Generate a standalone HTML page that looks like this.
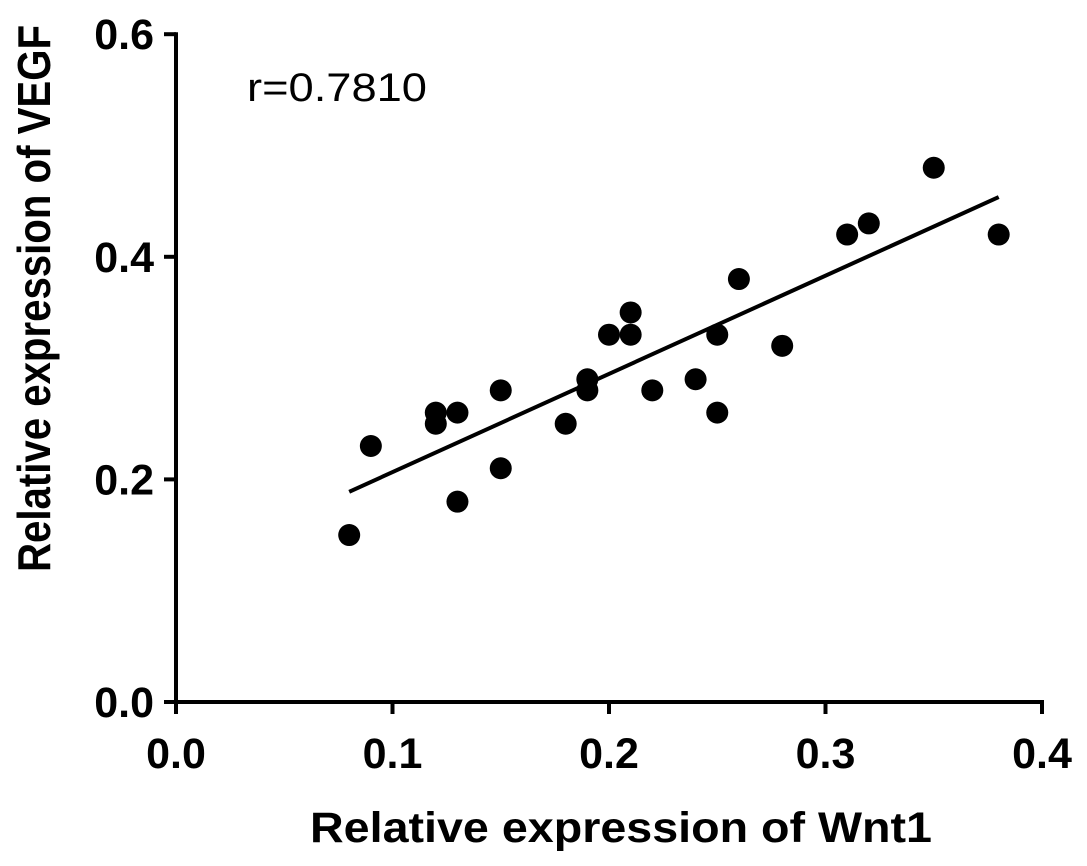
<!DOCTYPE html>
<html><head><meta charset="utf-8"><style>
html,body{margin:0;padding:0;background:#fff;}
svg{display:block;font-family:"Liberation Sans",Arial,sans-serif;}
</style></head><body>
<svg id="chart" width="1087" height="866"></svg>
<script>
const xVals=[0.08,0.09,0.12,0.12,0.13,0.13,0.15,0.15,0.18,0.19,0.19,0.20,0.21,0.21,0.22,0.24,0.25,0.25,0.26,0.28,0.31,0.32,0.35,0.38];
const yVals=[0.15,0.23,0.26,0.25,0.26,0.18,0.28,0.21,0.25,0.29,0.28,0.33,0.35,0.33,0.28,0.29,0.33,0.26,0.38,0.32,0.42,0.43,0.48,0.42];
const xTicks=[0.0,0.1,0.2,0.3,0.4];
const yTicks=[0.0,0.2,0.4,0.6];
const rLabel="r=0.7810";
const NS="http://www.w3.org/2000/svg";
const svg=document.getElementById('chart');
const X0=176,XS=2165,Y0=702,YS=1113;
function sx(v){return X0+v*XS;}
function sy(v){return Y0-v*YS;}
function mk(t,a,p){const e=document.createElementNS(NS,t);for(const k in a)e.setAttribute(k,a[k]);(p||svg).appendChild(e);return e;}
const yAxis=mk('line',{x1:X0,y1:sy(0.6)-2,x2:X0,y2:Y0+2,stroke:'#000','stroke-width':4});


const xAxis=mk('line',{x1:X0-2,y1:Y0,x2:sx(0.4)+2,y2:Y0,stroke:'#000','stroke-width':4});


xTicks.forEach(v=>{
  const t=mk('line',{x1:sx(v),y1:Y0,x2:sx(v),y2:Y0+12,stroke:'#000','stroke-width':4});
  
  
  const l=mk('text',{x:sx(v),y:768,'text-anchor':'middle','font-size':43,'font-weight':'bold'});
  l.textContent=v.toFixed(1);
  
  
});
yTicks.forEach(v=>{
  const t=mk('line',{x1:X0-12,y1:sy(v),x2:X0,y2:sy(v),stroke:'#000','stroke-width':4});
  
  
  const l=mk('text',{x:X0-22,y:sy(v)+15,'text-anchor':'end','font-size':43,'font-weight':'bold'});
  l.textContent=v.toFixed(1);
  
  
});
const n=xVals.length;
const mx=xVals.reduce((a,b)=>a+b,0)/n,my=yVals.reduce((a,b)=>a+b,0)/n;
let sxy=0,sxx=0;for(let i=0;i<n;i++){sxy+=(xVals[i]-mx)*(yVals[i]-my);sxx+=(xVals[i]-mx)**2;}
const b=sxy/sxx,a=my-b*mx;
const xmin=Math.min(...xVals),xmax=Math.max(...xVals);
const fit=mk('line',{x1:sx(xmin),y1:sy(a+b*xmin),x2:sx(xmax),y2:sy(a+b*xmax),stroke:'#000','stroke-width':4});


for(let i=0;i<n;i++){
  const c=mk('circle',{cx:sx(xVals[i]),cy:sy(yVals[i]),r:11,fill:'#000'});
  
  
}
const r=mk('text',{x:247,y:101,'font-size':40,textLength:180,lengthAdjust:'spacingAndGlyphs'});
r.textContent=rLabel;


const xt=mk('text',{x:310,y:842,'font-size':43,'font-weight':'bold',textLength:622,lengthAdjust:'spacingAndGlyphs'});
xt.textContent='Relative expression of Wnt1';


const yt=mk('text',{x:0,y:0,'font-size':46,'font-weight':'bold',textLength:547,lengthAdjust:'spacingAndGlyphs',transform:'translate(50,572) rotate(-90)'});
yt.textContent='Relative expression of VEGF';


</script>
</body></html>
